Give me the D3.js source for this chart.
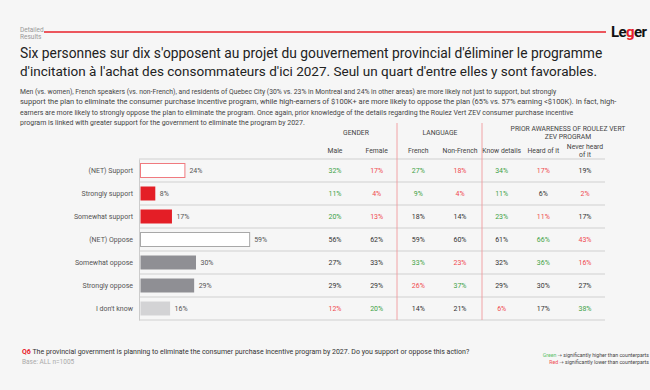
<!DOCTYPE html>
<meta charset="utf-8">
<head>
<title>Leger - Detailed Results</title>
</head>
<style>
body { margin: 0; background: #f6f6f6; }
svg { display: block; font-family: Roboto, "Open Sans", sans-serif; }
</style>
<body>
<svg width="650" height="390"></svg>
<script src="https://d3js.org/d3.v7.min.js"></script>
<script>

// answer options and total
var rows = ['(NET) Support', 'Strongly support', 'Somewhat support', '(NET) Oppose',
            'Somewhat oppose', 'Strongly oppose', "I don't know"];
var total = [24, 8, 17, 59, 30, 29, 16];
var barKind = ['netSup', 'sup', 'sup', 'netOpp', 'opp', 'opp', 'dk'];

// crosstab columns
var groups = ['GENDER', 'LANGUAGE', 'PRIOR AWARENESS OF ROULEZ VERT|ZEV PROGRAM'];
var cols = ['Male', 'Female', 'French', 'Non-French', 'Know details', 'Heard of it', 'Never heard|of it'];
var male      = [32, 11, 20, 56, 27, 29, 12];
var female    = [17, 4, 13, 62, 33, 29, 20];
var french    = [27, 9, 18, 59, 33, 26, 14];
var nonFrench = [18, 4, 14, 60, 23, 37, 21];
var knowDet   = [34, 11, 23, 61, 32, 29, 6];
var heardOf   = [17, 6, 11, 66, 36, 30, 17];
var neverHeard= [19, 2, 17, 43, 16, 27, 38];
// significance: g = higher, r = lower
var sigMale      = ['g','g','g','','','','r'];
var sigFemale    = ['r','r','r','','','','g'];
var sigFrench    = ['g','g','','','g','r',''];
var sigNonFrench = ['r','r','','','r','g',''];
var sigKnow      = ['g','g','g','','','','r'];
var sigHeard     = ['r','','r','g','g','',''];
var sigNever     = ['','r','','r','r','','g'];

var colVals = [male, female, french, nonFrench, knowDet, heardOf, neverHeard];
var colSig = [sigMale, sigFemale, sigFrench, sigNonFrench, sigKnow, sigHeard, sigNever];

var titleLines = [
  "Six personnes sur dix s'opposent au projet du gouvernement provincial d'éliminer le programme",
  "d'incitation à l'achat des consommateurs d'ici 2027. Seul un quart d'entre elles y sont favorables."
];
var introLines = [
  "Men (vs. women), French speakers (vs. non-French), and residents of Quebec City (30% vs. 23% in Montreal and 24% in other areas) are more likely not just to support, but strongly",
  "support the plan to eliminate the consumer purchase incentive program, while high-earners of $100K+ are more likely to oppose the plan (65% vs. 57% earning <$100K). In fact, high-",
  "earners are more likely to strongly oppose the plan to eliminate the program. Once again, prior knowledge of the details regarding the Roulez Vert ZEV consumer purchase incentive",
  "program is linked with greater support for the government to eliminate the program by 2027."
];

var RED = '#e8202a', GREEN = '#3fa246', TXT = '#333';
var barColors = { netSup: '#ffffff', sup: '#e41e26', netOpp: '#ffffff', opp: '#8f8f94', dk: '#d3d3d5' };
var barStroke = { netSup: '#f07a7f', netOpp: '#a8a8a8' };

var svg = d3.select('svg');

// shrink/grow font so a line fills a given width
function fitWidth(sel, widths) {
  sel.each(function(d, i) {
    var el = d3.select(this);
    var fs = parseFloat(el.attr('font-size'));
    var w = this.getComputedTextLength();
    el.attr('font-size', fs * widths[i] / w);
  });
}

// ---- header
svg.append('text').attr('x', 20).attr('y', 32).attr('font-size', 6.5).attr('fill', '#999').text('Detailed');
svg.append('text').attr('x', 20).attr('y', 38.5).attr('font-size', 6.5).attr('fill', '#999').text('Results');
svg.append('line').attr('x1', 44).attr('x2', 606).attr('y1', 32).attr('y2', 32)
  .attr('stroke', RED).attr('stroke-width', 1.6);
var logo = svg.append('text').attr('x', 611).attr('y', 37).attr('font-size', 15)
  .attr('font-weight', 700).attr('fill', '#111').attr('letter-spacing', -0.6);
logo.append('tspan').text('Le');
logo.append('tspan').attr('fill', RED).text('g');
logo.append('tspan').text('er');

var tl = svg.selectAll('.title').data(titleLines).enter().append('text')
  .attr('class', 'title')
  .attr('x', 20).attr('y', function(d, i) { return 58 + i * 18; })
  .attr('font-size', 16).attr('fill', '#222')
  .text(function(d) { return d; });
fitWidth(tl, [583, 578]);

var il = svg.selectAll('.intro').data(introLines).enter().append('text')
  .attr('class', 'intro')
  .attr('x', 20).attr('y', function(d, i) { return 93.5 + i * 10.5; })
  .attr('font-size', 6.4).attr('fill', '#444')
  .text(function(d) { return d; });
fitWidth(il, [536, 596, 554, 285]);

// ---- scales
var y = d3.scaleBand().domain(rows).range([159, 320]);
var x = d3.scaleLinear().domain([0, 100]).range([140, 325]);
var colX = d3.scalePoint().domain(cols).range([335, 585]);
var barH = 14;

var g = svg.append('g');

// row separators
g.selectAll('.sep').data([rows[0]].concat(rows)).enter().append('line')
  .attr('x1', 139).attr('x2', 605)
  .attr('y1', function(d, i) { return i == 0 ? y(d) : y(d) + y.bandwidth(); })
  .attr('y2', function(d, i) { return i == 0 ? y(d) : y(d) + y.bandwidth(); })
  .attr('stroke', '#dcdcdc').attr('stroke-width', 1.4);

// group dividers
[397, 482].forEach(function(xx) {
  g.append('line').attr('x1', xx).attr('x2', xx).attr('y1', 123).attr('y2', 320)
    .attr('stroke', '#f09a9d').attr('stroke-width', 0.9);
});

// bars
g.selectAll('.bar').data(rows).enter().append('rect')
  .attr('x', x(0) + 0.5)
  .attr('y', function(d) { return y(d) + (y.bandwidth() - barH) / 2; })
  .attr('width', function(d, i) { return x(total[i]) - x(0); })
  .attr('height', barH)
  .attr('fill', function(d, i) { return barColors[barKind[i]]; })
  .attr('stroke', function(d, i) { return barStroke[barKind[i]] || 'none'; })
  .attr('stroke-width', 1);

// axis
var yAxis = d3.axisLeft(y).tickSize(0).tickPadding(6);
var ax = g.append('g').attr('transform', 'translate(139,0)').call(yAxis);
ax.select('.domain').attr('stroke', '#ccc');
ax.selectAll('text').attr('font-size', 7).attr('fill', '#555').attr('font-family', 'Roboto, sans-serif');

// bar value labels
g.selectAll('.val').data(rows).enter().append('text')
  .attr('x', function(d, i) { return x(total[i]) + 5; })
  .attr('y', function(d) { return y(d) + y.bandwidth() / 2 + 2.5; })
  .attr('font-size', 7).attr('fill', '#555')
  .text(function(d, i) { return total[i] + '%'; });

// group headers
var groupX = [356, 440, 568];
groups.forEach(function(gname, gi) {
  var parts = gname.split('|');
  parts.forEach(function(p, k) {
    g.append('text').attr('x', groupX[gi])
      .attr('y', parts.length > 1 ? 131 + k * 8 : 135)
      .attr('text-anchor', 'middle').attr('font-size', 6.8).attr('fill', '#444')
      .text(p);
  });
});

// column headers
cols.forEach(function(c) {
  var parts = c.split('|');
  parts.forEach(function(p, k) {
    g.append('text').attr('x', colX(c))
      .attr('y', parts.length > 1 ? 148.5 + k * 8 : 153)
      .attr('text-anchor', 'middle').attr('font-size', 6.8).attr('fill', '#444')
      .text(p);
  });
});

// crosstab cells
cols.forEach(function(c, ci) {
  g.selectAll('.cell' + ci).data(rows).enter().append('text')
    .attr('x', colX(c))
    .attr('y', function(d) { return y(d) + y.bandwidth() / 2 + 2.5; })
    .attr('text-anchor', 'middle').attr('font-size', 7)
    .attr('fill', function(d, i) {
      var s = colSig[ci][i];
      return s == 'g' ? GREEN : s == 'r' ? '#f04a4f' : TXT;
    })
    .text(function(d, i) { return colVals[ci][i] + '%'; });
});

// ---- footer
var q = svg.append('text').attr('x', 22).attr('y', 353.5).attr('font-size', 7).attr('fill', '#333');
q.append('tspan').attr('fill', RED).attr('font-weight', 700).text('Q6');
q.append('tspan').text(' The provincial government is planning to eliminate the consumer purchase incentive program by 2027. Do you support or oppose this action?');
svg.append('text').attr('x', 22).attr('y', 364).attr('font-size', 6.5).attr('fill', '#aaa').text('Base: ALL n=1005');

function legendLine(yy, word, col, rest) {
  var t = svg.append('text').attr('x', 649).attr('y', yy).attr('text-anchor', 'end')
    .attr('font-size', 5.2).attr('fill', '#444');
  t.append('tspan').attr('fill', col).text(word + ' ');
  t.append('tspan').attr('font-family', '"DejaVu Sans", sans-serif').text('\u2192');
  t.append('tspan').text(' ' + rest);
}
legendLine(357, 'Green', '#5cc26a', 'significantly higher than counterparts');
legendLine(364, 'Red', '#f04a4f', 'significantly lower than counterparts');

</script>
</body>
</html>
